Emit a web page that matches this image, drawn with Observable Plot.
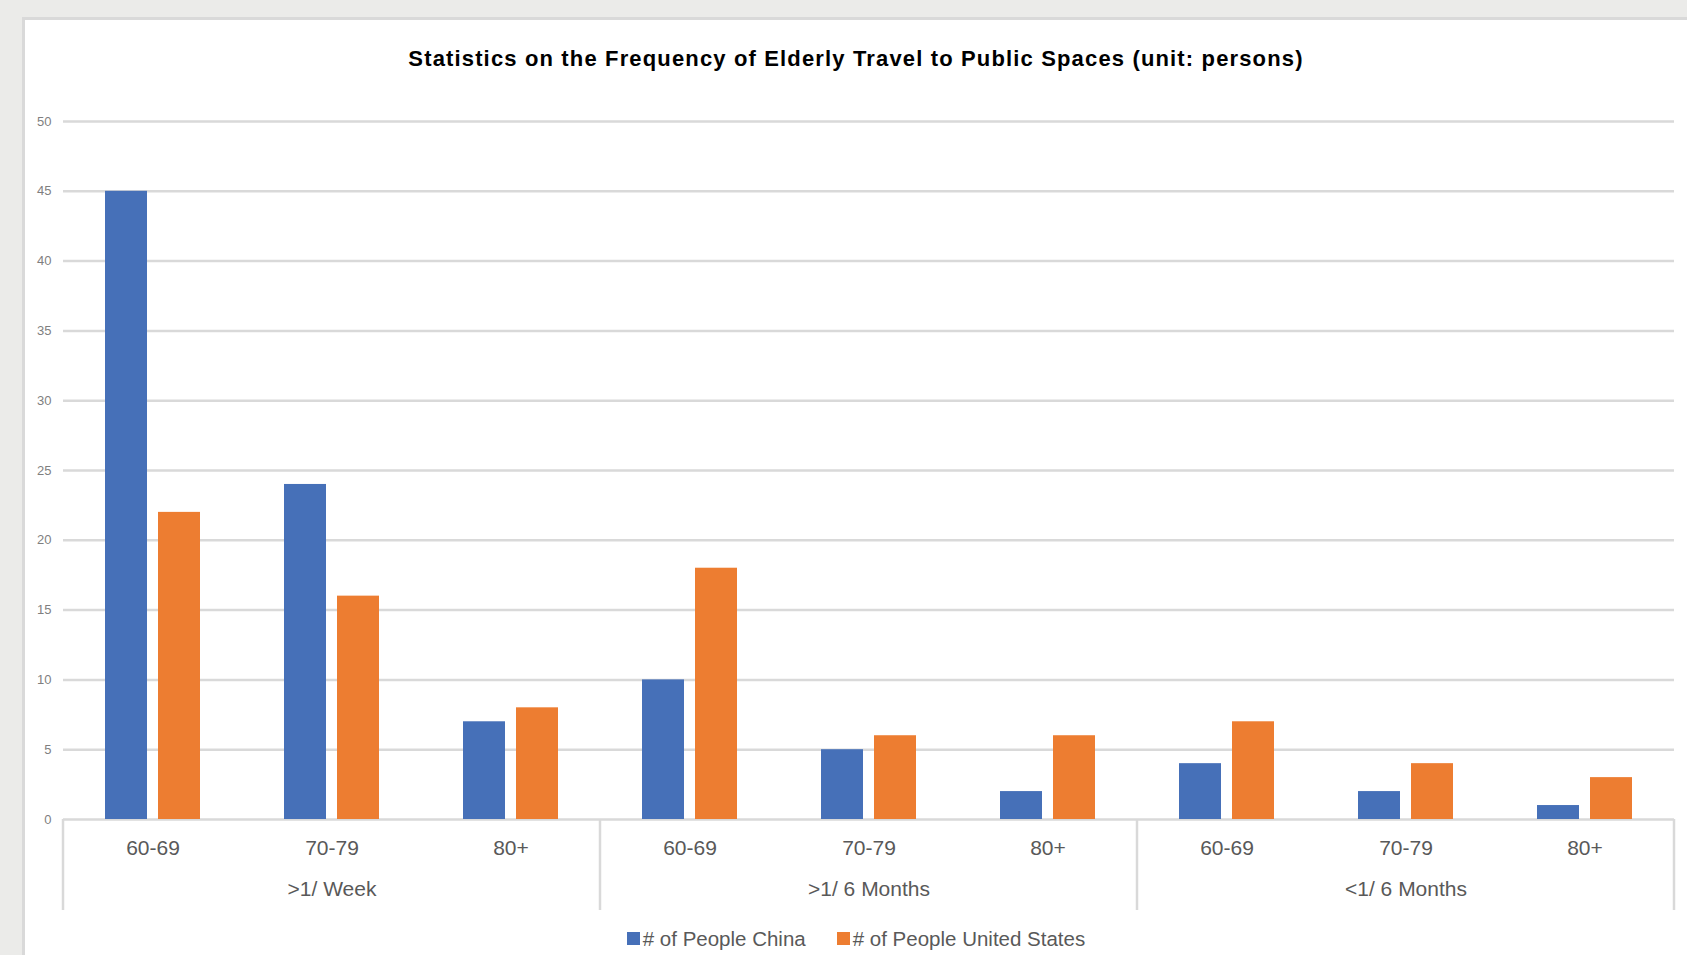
<!DOCTYPE html>
<html><head><meta charset="utf-8">
<script src="https://cdn.jsdelivr.net/npm/d3@7"></script>
<script src="https://cdn.jsdelivr.net/npm/@observablehq/plot@0.6"></script>
<style>
html,body{margin:0;padding:0;background:#ebebe9;width:1687px;height:955px;overflow:hidden;font-family:"Liberation Sans",Arial,sans-serif;}
#panel{position:absolute;left:22px;top:17px;right:0;bottom:0;background:#fff;border-left:3px solid #d9d9d9;border-top:3px solid #d9d9d9;}
#title{position:absolute;left:25px;right:0;top:46px;text-align:center;font-weight:bold;font-size:22px;letter-spacing:1.15px;color:#000;line-height:26px;white-space:nowrap;}
#chart{position:absolute;left:0;top:90px;}
#legend{position:absolute;left:25px;right:0;top:922px;display:flex;justify-content:center;}
#legend .lg, #legend .lg-swatch{font-family:"Liberation Sans",Arial,sans-serif !important;font-size:20.5px !important;color:#595959 !important;}
#legend .lg{margin:0 !important;}
#legend .lg-swatch{margin-right:31px !important;}
#legend .lg-swatch:last-child{margin-right:0 !important;}
#legend .lg-swatch svg{margin-right:3px !important;}
</style></head><body>
<div id="panel"></div>
<div id="title">Statistics on the Frequency of Elderly Travel to Public Spaces (unit: persons)</div>
<div id="chart"></div>
<div id="legend"></div>
<script>
const frequencies = [">1/ Week", ">1/ 6 Months", "<1/ 6 Months"];
const ageGroups = ["60-69", "70-79", "80+"];
const seriesNames = ["# of People China", "# of People United States"];
const chinaValues = [45, 24, 7, 10, 5, 2, 4, 2, 1];
const usValues = [22, 16, 8, 18, 6, 6, 7, 4, 3];
const yTicks = [0, 5, 10, 15, 20, 25, 30, 35, 40, 45, 50];
const seriesColors = ["#4670b8", "#ed7d31"];

const keys = [];
const rows = [];
frequencies.forEach((f, fi) => ageGroups.forEach((a, ai) => {
  const i = fi * 3 + ai;
  const key = f + "||" + a;
  keys.push(key);
  rows.push({key, series: seriesNames[0], value: chinaValues[i]});
  rows.push({key, series: seriesNames[1], value: usValues[i]});
}));
const groupRows = frequencies.map(f => ({key: f + "||" + ageGroups[1], label: f}));

const plot = Plot.plot({
  width: 1687, height: 830,
  marginTop: 31, marginBottom: 101, marginLeft: 62, marginRight: 12,
  style: {background: "transparent", color: "#595959", fontFamily: "Liberation Sans, Arial, sans-serif", overflow: "visible"},
  fx: {domain: keys, padding: 0, label: null},
  x: {domain: seriesNames, paddingInner: 0.215, paddingOuter: 0.78, axis: null},
  y: {domain: [0, 50], label: null},
  color: {domain: seriesNames, range: seriesColors},
  marks: [
    Plot.gridY(yTicks.slice(1), {stroke: "#d9d9d9", strokeWidth: 2.5, strokeOpacity: 1}),
    Plot.ruleY([0], {stroke: "#d9d9d9", strokeWidth: 2.5}),
    Plot.barY(rows, {fx: "key", x: "series", y: "value", fill: "series"}),
    Plot.axisY(yTicks, {facetAnchor: "left", tickSize: 0, tickPadding: 12, fontSize: 13, fill: "#7f7f7f", label: null}),
    Plot.axisFx({anchor: "bottom", tickSize: 0, tickPadding: 21, tickFormat: k => k.split("||")[1], fontSize: 21, fill: "#595959", label: null}),
    Plot.text(groupRows, {fx: "key", frameAnchor: "bottom", dy: 76, text: "label", fontSize: 21, fill: "#595959"})
  ]
});

// group separators, positioned from the plot's own fx / y scales
const fxs = plot.scale("fx"), ys = plot.scale("y");
const y0 = ys.apply(0);
const sepX = frequencies.map(f => fxs.apply(f + "||" + ageGroups[0]));
sepX.push(fxs.apply(keys[keys.length - 1]) + fxs.bandwidth);
d3.select(plot).append("g").selectAll("line").data(sepX).join("line")
  .attr("x1", d => d).attr("x2", d => d)
  .attr("y1", y0).attr("y2", y0 + 91)
  .attr("stroke", "#d9d9d9").attr("stroke-width", 2.5);

document.getElementById("chart").appendChild(plot);
document.getElementById("legend").appendChild(plot.legend("color", {swatchSize: 13, className: "lg"}));
</script>
</body></html>
